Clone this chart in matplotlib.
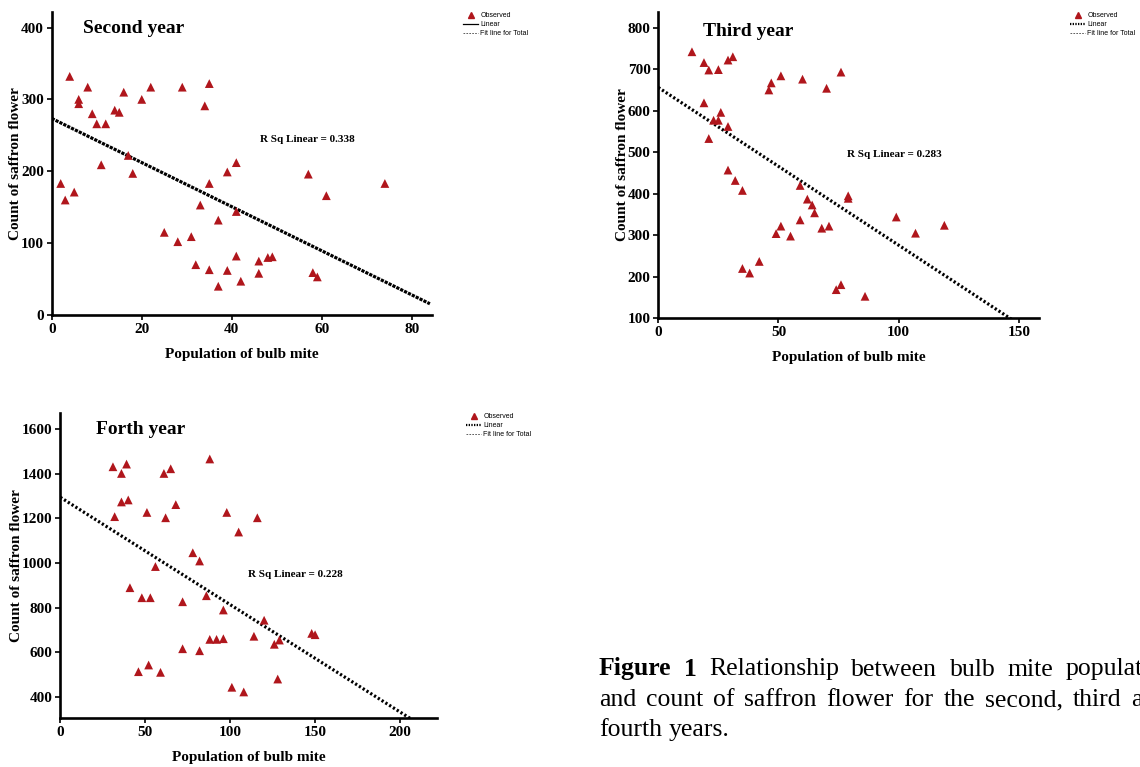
import matplotlib
matplotlib.use("Agg")
import matplotlib.pyplot as plt
from matplotlib.lines import Line2D
import numpy as np

# ---------------- data ----------------
x2 = [2, 3, 4, 5, 6, 6, 8, 9, 10, 11, 12, 14, 15, 16, 17, 18, 20, 22, 25, 28, 29, 31, 32,
      33, 34, 35, 35, 35, 37, 37, 39, 39, 41, 41, 41, 42, 46, 46, 48, 49, 57, 58, 59, 61, 74]
y2 = [183, 160, 332, 171, 300, 294, 317, 280, 266, 209, 266, 285, 282, 310, 222, 197, 300,
      317, 115, 102, 317, 109, 70, 153, 291, 322, 183, 63, 132, 40, 199, 62, 212, 144, 82,
      47, 75, 58, 80, 81, 196, 59, 53, 166, 183]

x3 = [14, 19, 21, 25, 29, 31, 19, 23, 25, 26, 29, 21, 29, 32, 35, 35, 38, 42, 46, 47, 51,
      49, 51, 55, 59, 59, 60, 62, 64, 65, 68, 70, 71, 74, 76, 76, 79, 79, 86, 99, 107, 119]
y3 = [742, 716, 698, 699, 722, 730, 619, 577, 577, 596, 562, 533, 457, 432, 408, 220, 209,
      237, 650, 667, 684, 304, 322, 298, 420, 337, 676, 387, 373, 354, 317, 654, 322, 169,
      693, 181, 395, 389, 153, 344, 305, 324]

x4 = [31, 32, 36, 36, 39, 40, 41, 46, 48, 51, 52, 53, 56, 59, 61, 62, 65, 68, 72, 72, 78,
      82, 82, 86, 88, 88, 92, 96, 96, 98, 101, 105, 108, 114, 116, 120, 126, 128, 129, 148, 150]
y4 = [1432, 1208, 1402, 1274, 1444, 1283, 889, 512, 844, 1227, 542, 844, 984, 509, 1402,
      1203, 1423, 1262, 826, 615, 1046, 1009, 606, 853, 1467, 657, 657, 789, 660, 1227, 442,
      1139, 421, 671, 1203, 743, 635, 479, 654, 684, 678]

# fitted lines (intercept, slope)
fit2 = (273.5, -3.07)
fit3 = (656.0, -3.80)
fit4 = (1295.0, -4.82)

titles = ["Second year", "Third year", "Forth year"]
r2_labels = ["R Sq Linear = 0.338", "R Sq Linear = 0.283", "R Sq Linear = 0.228"]
xticks2 = [0, 20, 40, 60, 80]
yticks2 = [0, 100, 200, 300, 400]
xticks3 = [0, 50, 100, 150]
yticks3 = [100, 200, 300, 400, 500, 600, 700, 800]
xticks4 = [0, 50, 100, 150, 200]
yticks4 = [400, 600, 800, 1000, 1200, 1400, 1600]
legend_labels = ["Observed", "Linear", "Fit line for Total"]
xlabel = "Population of bulb mite"
ylabel = "Count of saffron flower"
caption_lines = [
    [("Figure", True), ("1", True), ("Relationship", False), ("between", False),
     ("bulb", False), ("mite", False), ("population", False)],
    [(w, False) for w in "and count of saffron flower for the second, third and".split()],
    [(w, False) for w in "fourth years.".split()],
]

# ---------------- style ----------------
SERIF = ["Liberation Serif", "DejaVu Serif"]
SANS = ["Liberation Sans", "DejaVu Sans"]
RED = "#B0161C"

fig = plt.figure(figsize=(11.4, 7.67), dpi=100)
W, H = 1140, 767


def px_axes(left, right, top, bottom):
    return fig.add_axes([left / W, 1 - bottom / H, (right - left) / W, (bottom - top) / H])


panels = [
    dict(ax=px_axes(51.7, 431.7, 11.7, 315.0), x=x2, y=y2, fit=fit2,
         xlim=(0, 84.4), ylim=(0, 422), xt=xticks2, yt=yticks2,
         title_pos=(0.082, 0.946), r2_pos=(0.548, 0.580),
         dash=(0, (1.0, 0.35)), leg=(463, 12), leg_dotted=False),
    dict(ax=px_axes(658.3, 1039.3, 11.7, 318.3), x=x3, y=y3, fit=fit3,
         xlim=(0, 158.5), ylim=(100, 838.5), xt=xticks3, yt=yticks3,
         title_pos=(0.117, 0.937), r2_pos=(0.495, 0.533),
         dash=(0, (0.7, 0.7)), leg=(1070, 12), leg_dotted=True),
    dict(ax=px_axes(60.3, 436.7, 413.3, 718.3), x=x4, y=y4, fit=fit4,
         xlim=(0, 221.6), ylim=(302.7, 1672), xt=xticks4, yt=yticks4,
         title_pos=(0.095, 0.948), r2_pos=(0.499, 0.470),
         dash=(0, (0.7, 0.7)), leg=(466, 413), leg_dotted=True),
]

for p, title, r2 in zip(panels, titles, r2_labels):
    ax = p["ax"]
    ax.scatter(p["x"], p["y"], marker="^", s=40, color=RED, edgecolors="none", zorder=3)
    b0, b1 = p["fit"]
    xs = np.array([0.0, p["xlim"][1] - 0.4])
    ax.plot(xs, b0 + b1 * xs, color="black", lw=2.3, linestyle=p["dash"], zorder=2,
            solid_capstyle="butt", dash_capstyle="butt")
    ax.set_xlim(*p["xlim"])
    ax.set_ylim(*p["ylim"])
    ax.set_xticks(p["xt"])
    ax.set_yticks(p["yt"])
    for s in ["top", "right"]:
        ax.spines[s].set_visible(False)
    for s in ["left", "bottom"]:
        ax.spines[s].set_linewidth(1.9)
    ax.tick_params(direction="out", length=3.5, width=1.2, pad=2)
    for lab in ax.get_xticklabels() + ax.get_yticklabels():
        lab.set_fontfamily(SERIF)
        lab.set_fontweight("bold")
        lab.set_fontsize(11)
    ax.set_xlabel(xlabel, fontfamily=SERIF, fontweight="bold", fontsize=11, labelpad=9)
    ax.set_ylabel(ylabel, fontfamily=SERIF, fontweight="bold", fontsize=11, labelpad=-1)
    ax.text(p["title_pos"][0], p["title_pos"][1], title, transform=ax.transAxes,
            fontfamily=SERIF, fontweight="bold", fontsize=14, ha="left", va="center")
    ax.text(p["r2_pos"][0], p["r2_pos"][1], r2, transform=ax.transAxes,
            fontfamily=SERIF, fontweight="bold", fontsize=8, ha="left", va="center")

    handles = [
        Line2D([], [], marker="^", color=RED, linestyle="none", markersize=5),
        Line2D([], [], color="black", lw=1.6 if p["leg_dotted"] else 0.9,
               linestyle=(0, (0.6, 0.6)) if p["leg_dotted"] else "-"),
        Line2D([], [], color="#444444", lw=0.6, linestyle=(0, (2, 1.5))),
    ]
    lx, ly = p["leg"]
    fig.legend(handles, legend_labels, loc="upper left",
               bbox_to_anchor=(lx / W, 1 - ly / H), bbox_transform=fig.transFigure,
               frameon=False, prop={"family": SANS, "size": 5},
               handlelength=2.2, handletextpad=0.3, labelspacing=0.3,
               borderpad=0, borderaxespad=0)

# ---------------- caption (justified lines, clipped by figure edge) ----------------
cap_size = 18.5
cap_left = 599.0
cap_rights = [1176.0, 1168.0, None]
baselines = [675.5, 706.5, 736.0]
renderer = fig.canvas.get_renderer()
for words, base, right in zip(caption_lines, baselines, cap_rights):
    texts = []
    for w, bold in words:
        t = fig.text(0, 1 - base / H, w, fontfamily=SERIF, fontsize=cap_size,
                     fontweight="bold" if bold else "normal", ha="left", va="baseline")
        texts.append(t)
    widths = [t.get_window_extent(renderer).width for t in texts]
    if right is not None and len(texts) > 1:
        gap = (right - cap_left - sum(widths)) / (len(texts) - 1)
    else:
        gap = 0.25 * cap_size * 100 / 72
    x = cap_left
    for t, wdt in zip(texts, widths):
        t.set_x(x / W)
        x += wdt + gap

fig.savefig("out.png", dpi=100)
